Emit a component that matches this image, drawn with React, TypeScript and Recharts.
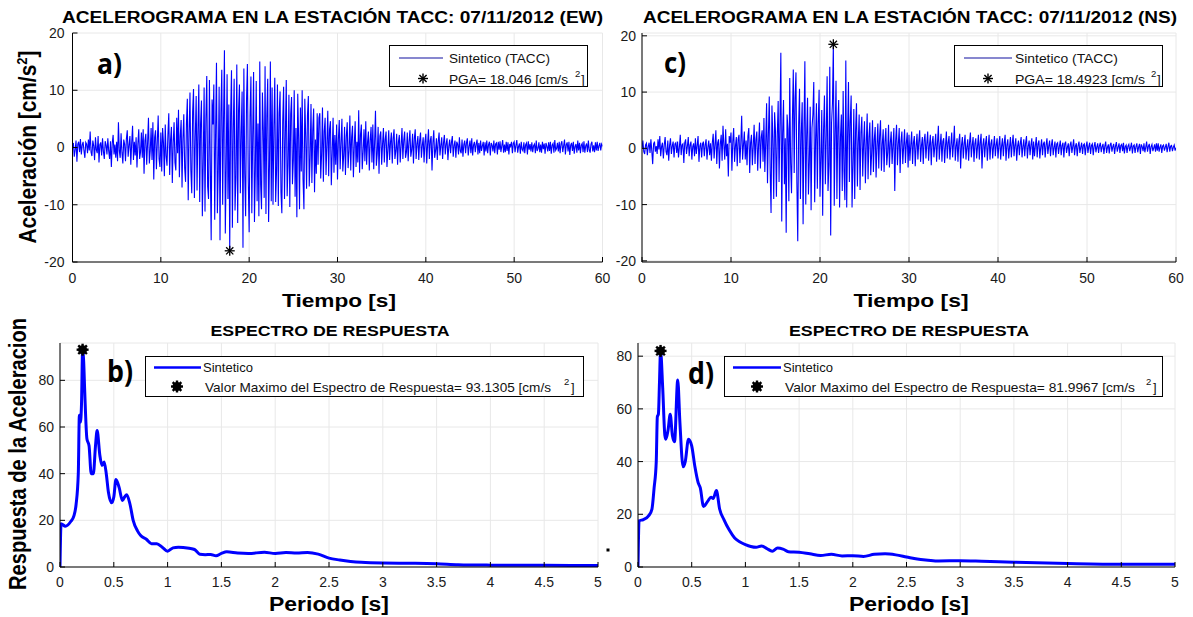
import React from "react";
import { LineChart, Line, XAxis, YAxis, CartesianGrid, ReferenceDot, Legend } from "recharts";

const FONT = "'Liberation Sans', Arial, Helvetica, sans-serif";
const BLUE = "#0000ff";

// accelerogram sample step [s]
const DT = 0.1;

// EW component, read off panel a), one row per second
const acelEW = [
  0.0, 0.8, -1.6, -0.4, 1.2, -2.5, 0.6, 1.0, -0.8, 1.5,
  -1.2, 0.4, 1.0, -0.6, -1.8, 0.9, 0.6, -1.0, 1.4, -0.5,
  2.8, -0.8, -1.5, 1.2, 0.3, -2.2, 1.8, -0.4, -1.0, 2.0,
  -2.6, 0.5, 0.9, -1.4, 1.6, -0.7, -2.0, 1.1, 0.4, -1.2,
  1.6, -0.6, -2.0, 1.1, -3.4, 0.8, 2.2, -1.2, 0.5, -1.8,
  1.0, -2.4, 4.4, -0.6, -1.8, 2.5, -0.9, -2.8, 1.4, 0.6,
  -2.4, 1.5, 3.0, -1.6, 0.4, 2.0, -3.0, 0.8, 3.8, -2.2,
  1.0, -1.4, 1.8, -3.5, 0.6, 3.2, -2.0, -0.8, 2.6, -1.8,
  3.2, -4.6, 1.2, 2.4, -3.0, 0.8, 5.2, -2.8, -0.6, 3.4,
  -2.2, 4.4, -5.6, 1.8, 3.0, -3.8, 0.9, 5.6, -2.0, -3.4,
  2.6, -4.2, 3.4, 0.8, -5.0, 4.0, -1.5, -3.2, 2.2, 6.0,
  -4.8, 1.4, 3.6, -6.2, 0.8, 4.4, -2.6, -4.0, 5.2, -1.0,
  6.6, -5.2, 2.0, 4.8, -7.0, 1.5, 5.8, -3.6, -6.0, 4.2,
  8.5, -9.2, 2.4, 9.6, -4.0, -8.0, 6.2, 10.2, -8.8, 1.8,
  9.0, -7.5, 3.0, 11.0, -9.5, 4.2, 8.2, -12.0, -2.5, 10.5,
  -11.2, 5.0, 12.5, -6.8, -9.0, 11.8, -3.0, -16.2, 8.4, 4.0,
  11.0, -12.6, 2.6, 14.8, -11.5, -4.0, 10.6, -16.2, 6.0, 13.6,
  -10.0, 4.8, 17.0, -15.0, -3.5, 12.8, -9.0, 7.5, -18.046, 5.6,
  13.5, -14.0, 3.2, 12.0, -11.0, -5.2, 14.5, -13.2, 6.4, 11.0,
  -8.0, 2.5, 9.8, -17.5, 13.8, -4.6, -12.0, 8.2, 14.6, -6.0,
  -14.8, 5.4, 12.4, -11.5, 2.0, 13.2, -13.0, -3.8, 11.6, -9.4,
  4.2, -12.0, 15.0, -6.5, -10.8, 9.6, 3.0, -8.8, 14.2, -11.6,
  5.5, 12.0, -13.0, -2.8, 15.0, -9.4, 10.5, -10.0, 3.6, 12.2,
  -9.5, -4.0, 11.0, -10.2, 6.0, 9.8, -7.8, -11.5, 4.6, 10.6,
  -9.0, 2.4, 11.8, -8.5, -3.0, 9.2, -10.4, 5.8, 8.8, -6.4,
  -2.2, 10.0, -8.6, 3.4, -12.2, 9.4, 1.6, -10.8, 7.0, -4.2,
  10.0, -5.6, -10.8, 8.5, 2.0, -7.2, 5.6, 9.0, -6.8, -1.8,
  7.6, -6.2, 3.0, 6.8, -7.8, 1.4, -4.6, 6.0, -3.0, 5.2,
  6.0, -5.4, -1.2, 7.0, -6.0, 2.8, 5.2, -4.8, 0.6, 6.4,
  -5.0, 3.2, 4.6, -6.6, -1.0, 5.2, -4.4, 2.2, -3.0, 4.0,
  -5.6, 1.4, 4.8, -3.8, 0.8, 5.0, -4.2, -1.4, 3.6, -4.8,
  2.0, 4.4, -3.6, -0.6, 5.6, -4.0, 1.8, 3.8, -5.2, 0.4,
  4.6, -3.4, 1.0, -2.6, 6.5, -4.4, 2.2, 4.0, -3.8, -0.8,
  3.2, -2.4, 4.6, -3.0, 0.9, 2.8, -4.0, 1.2, 3.6, -2.6,
  4.0, -3.8, 0.8, 6.4, -3.2, -1.0, 3.6, -4.6, 2.0, 2.8,
  -3.0, 0.6, 3.4, -2.6, 1.4, 2.8, -3.4, -0.4, 3.0, -2.2,
  0.9, 2.6, -2.8, 1.6, 3.2, -2.0, -0.6, 2.4, -3.0, 1.0,
  2.2, -2.6, 0.4, 3.4, -2.0, 1.2, 2.8, -1.8, -0.8, 2.6,
  -2.4, 1.0, 3.0, -1.6, -0.4, 2.4, -2.8, 1.6, 3.2, -2.0,
  0.6, 2.0, -2.2, 1.2, 2.6, -1.8, 0.4, 1.8, -2.6, 1.0,
  2.4, -2.8, 0.6, 3.2, -2.0, 1.2, 2.0, -4.0, 0.8, 3.0,
  -1.8, -0.6, 1.6, -2.2, 1.0, 2.6, -1.4, 0.4, 1.8, -2.0,
  0.8, 2.2, -1.2, 0.6, 1.6, -2.2, 0.2, 1.4, -1.0, 0.9,
  2.0, -1.6, 0.4, 1.2, -1.8, 1.0, 0.6, -1.2, 1.8, -0.6,
  -1.0, 1.4, -1.6, 0.5, 1.2, -1.0, 0.8, 1.6, -1.4, 0.2,
  1.2, -1.0, 1.6, -1.4, 0.4, 1.0, -0.8, 0.6, 1.4, -1.2,
  0.8, -1.0, 1.2, -0.6, 0.3, 1.0, -1.4, 0.9, -0.7, 1.2,
  -1.0, 0.5, 1.0, -1.4, 0.8, 0.4, -0.7, 1.2, -1.0, 0.6,
  0.8, -1.2, 1.0, -0.4, 1.1, -0.8, 0.3, 1.3, -0.9, 0.5,
  -0.8, 1.0, -0.6, 0.9, -1.2, 0.6, 0.2, 1.0, -1.0, 0.7,
  1.0, -0.8, 0.4, 1.3, -0.9, 0.2, 0.7, -1.1, 1.0, -0.3,
  -0.6, 0.9, -1.0, 0.5, 0.8, -1.2, 1.1, -0.4, 0.6, -0.7,
  0.9, -0.8, 0.3, 0.6, -1.0, 1.2, -0.6, -0.2, 0.9, -0.8,
  0.5, -0.9, 1.0, -0.3, 0.7, -1.1, 0.8, 0.2, -0.7, 0.9,
  -0.6, 1.0, -1.1, 0.4, 0.7, -0.9, 1.3, -0.5, -0.2, 0.8,
  -0.7, 1.0, -1.0, 0.6, 1.1, -0.8, 0.3, 1.4, -1.2, 0.5,
  0.9, -0.7, 1.0, -1.3, 0.4, 0.8, -0.6, 1.0, -1.1, 0.2,
  0.6, -0.9, 1.2, -0.5, 0.8, -1.0, 0.4, 0.7, -0.8, 1.1,
  -0.9, 0.3, 0.7, -0.8, 1.2, -0.4, -0.9, 0.6, 1.0, -0.7,
  0.4, -0.8, 0.9, -0.5, 1.0, -0.6, 0.3, 0.8, -0.5, 0.6,
  0.2,
];

// NS component, panel c)
const acelNS = [
  0.0, 1.4, -0.6, -1.0, 0.6, 0.9, -1.2, 0.3, 1.0, -0.8,
  1.6, -0.4, -2.8, 0.8, 1.2, -0.6, 0.4, -1.0, 1.6, -0.2,
  2.2, -1.4, 0.3, 1.0, -1.8, 0.6, 2.0, -0.6, -1.2, 1.4,
  -2.2, 0.5, 1.8, -1.0, 0.4, 1.2, -1.6, 0.8, 1.0, -0.8,
  1.2, -1.6, 0.2, 2.4, -1.2, 0.6, 0.8, -2.6, 1.0, 1.6,
  -1.0, 0.4, 2.0, -1.4, 0.6, 1.2, -2.0, 0.3, 0.9, -1.4,
  1.8, -1.0, 0.5, 2.2, -2.4, 0.4, 1.0, -1.6, 0.8, 1.2,
  -1.4, 0.6, 1.6, -2.0, 0.2, 1.4, -1.2, 0.9, -2.2, 1.0,
  2.6, -1.8, 0.6, 3.2, -2.8, 1.0, 1.6, -3.6, 0.8, 2.4,
  -2.2, 4.0, 0.6, -2.0, 3.4, -1.4, 0.8, -5.0, 2.2, 1.0,
  2.8, -4.0, 1.2, 3.6, -2.4, 0.4, 2.0, -3.2, 1.6, 2.4,
  -2.6, 0.8, 5.8, -2.0, 0.6, 3.0, -2.0, 1.4, -3.0, 2.2,
  3.6, -4.4, 1.0, 2.4, -3.0, 0.5, 4.2, -2.8, 1.6, 3.0,
  -4.0, 0.8, 4.6, -3.6, 2.0, 3.2, -2.4, 5.4, -4.2, 1.0,
  8.0, -6.2, 2.4, 9.2, -4.0, -11.5, 7.6, 1.8, -9.0, 6.4,
  3.0, -8.6, 2.2, 8.4, -6.0, 4.6, 17.0, -13.0, 2.6, 8.6,
  -6.4, 1.8, -15.0, 6.0, 3.4, -9.4, 12.5, -2.6, -8.0, 5.2,
  14.0, -4.4, 9.0, 13.5, -6.0, -16.5, 4.2, 10.6, -9.0, 2.8,
  8.2, -13.5, 3.4, 15.5, -10.0, 2.0, 9.0, -8.2, -2.4, 7.4,
  -11.0, 3.6, 6.0, 11.8, -9.6, 1.4, 8.0, -7.2, 4.4, 10.4,
  -8.6, -2.0, 6.8, -12.0, 3.2, 9.4, -6.4, 2.0, 12.8, -7.6,
  -3.0, 14.5, -15.5, 4.6, 8.0, 18.4923, -10.2, 2.4, 12.0, -9.0,
  3.6, 8.6, -10.5, 2.0, 6.0, -7.6, 10.2, -4.2, -9.2, 15.6,
  -10.5, 2.4, 11.8, -6.0, 4.8, 9.4, -10.5, -3.0, 7.0, -9.0,
  3.2, 8.0, -6.8, 1.2, 6.0, -7.4, 2.8, 5.6, -5.0, 1.0,
  4.8, -6.2, 0.8, 6.2, -5.5, 2.0, 4.6, -4.8, -1.0, 5.0,
  -4.2, 1.6, 3.8, -5.2, 0.6, 4.4, -3.6, 2.2, 5.0, -4.0,
  0.8, 3.4, -4.2, 1.2, 3.6, -3.0, -0.8, 4.2, -3.4, 1.0,
  3.0, -2.8, 0.6, 3.6, -7.6, 1.4, 4.2, -3.0, 0.8, 3.6,
  -4.4, 1.2, 3.0, -2.8, 0.4, 3.4, -2.6, 0.9, 2.8, -3.4,
  2.4, -2.2, 0.6, 3.0, -2.8, 1.0, 2.2, -3.2, 0.4, 2.6,
  -2.0, 1.2, 3.2, -2.4, 0.5, 2.0, -2.8, 1.4, 2.6, -1.8,
  0.8, 3.0, -2.2, 0.6, 2.4, -3.0, 1.0, 2.2, -1.6, 0.4,
  2.6, -2.4, 0.9, 4.0, -2.0, 0.6, 2.6, -2.4, 1.2, 1.8,
  -2.6, 0.4, 3.0, -1.8, 1.0, 2.2, -2.0, 0.6, 2.8, -1.6,
  0.8, 4.0, -2.2, 0.4, 1.8, -2.4, 1.2, 2.6, -3.6, 0.6,
  2.0, -1.8, 0.8, 2.4, -2.0, 0.2, 1.6, -2.2, 1.0, 2.8,
  -1.6, 0.6, 2.0, -2.4, 0.8, 1.8, -1.8, 0.4, 2.4, -2.0,
  1.0, 2.6, -3.6, 0.6, 1.8, -1.6, 0.9, 2.2, -2.2, 0.5,
  2.4, -2.0, 0.8, 1.6, -1.8, 0.4, 2.2, -1.4, 0.6, 1.8,
  -1.8, 0.6, 2.2, -2.0, 0.4, 1.8, -1.4, 1.0, 2.4, -2.2,
  0.6, 1.6, -1.8, 0.3, 2.0, -1.6, 0.8, 2.4, -1.4, 0.5,
  1.8, -2.2, 0.4, 1.4, -1.2, 0.8, 2.0, -1.6, 0.3, 1.6,
  -1.4, 0.9, 2.2, -1.8, 0.4, 1.4, -1.2, 0.6, 1.8, -2.0,
  1.2, -1.4, 0.5, 2.0, -1.6, 0.8, 1.4, -1.8, 0.2, 1.6,
  -1.2, 0.8, 1.2, -1.6, 0.6, 1.8, -1.0, 0.4, 1.4, -1.4,
  0.6, 1.6, -1.2, 0.2, 1.2, -1.6, 0.8, 1.0, -1.0, 0.4,
  1.4, -1.2, 0.5, 1.0, -1.6, 0.8, 1.2, -0.8, 0.2, 0.9,
  -1.4, 0.6, 1.2, -0.8, 0.3, 1.6, -1.2, 0.4, 0.9, -1.4,
  0.5, 1.2, -0.8, 0.2, 1.0, -1.0, 0.6, 0.8, -1.2, 0.4,
  1.2, -0.8, 0.3, 1.0, -1.0, 0.5, 0.8, -1.2, 0.4, 1.1,
  -0.7, 0.2, 0.9, -0.8, 0.5, 1.0, -0.7, 0.3, 0.8, -1.0,
  0.4, 1.2, -0.8, 0.2, 0.7, -0.9, 0.6, 1.0, -0.6, 0.3,
  0.8, -1.0, 0.4, 1.1, -0.6, 0.2, 0.9, -0.8, 0.5, 0.7,
  -0.5, 1.0, -0.9, 0.3, 0.6, -0.8, 0.4, 0.7, -0.5, 0.2,
  1.0, -0.9, 0.4, 0.6, -0.8, 0.3, 0.9, -0.7, 0.2, 0.8,
  -1.0, 0.7, 0.3, -0.5, 0.9, -0.7, 0.2, 1.2, -0.6, 0.4,
  0.8, -1.0, 0.3, 0.7, -0.5, 0.1, 0.7, -0.6, 0.9, -0.4,
  0.9, -0.6, 0.2, 0.7, -0.8, 0.4, 0.6, -0.4, 0.2, 0.8,
  -0.7, 0.3, 1.0, -0.6, 0.4, 0.5, -0.5, 0.2, 0.6, -0.4,
  0.1,
];

const pgaEW = { t: 17.8, a: -18.046 };
const pgaNS = { t: 21.5, a: 18.4923 };

// response spectra
const periodoB = [
  0, 0.01, 0.05, 0.1, 0.13, 0.15, 0.17, 0.18, 0.19, 0.2,
  0.21, 0.22, 0.23, 0.25, 0.27, 0.29, 0.31, 0.33, 0.345, 0.37,
  0.39, 0.41, 0.43, 0.45, 0.48, 0.5, 0.52, 0.55, 0.58, 0.6,
  0.62, 0.65, 0.68, 0.72, 0.75, 0.8, 0.85, 0.9, 0.95, 1.0,
  1.05, 1.1, 1.2, 1.25, 1.3, 1.35, 1.4, 1.45, 1.5, 1.55,
  1.65, 1.75, 1.9, 2.0, 2.1, 2.2, 2.3, 2.4, 2.5, 2.6,
  2.7, 2.8, 3.0, 3.3, 3.5, 3.7, 4.0, 4.5, 5.0,
];
const saB = [
  0, 18.5, 17.5, 19.5, 22, 27, 40, 65, 62, 70,
  93.13, 88, 75, 55, 52, 40, 40, 52, 58.5, 48,
  43.5, 45, 40, 32, 27.5, 30, 37.5, 34, 28.5, 30,
  31, 27, 20, 15.5, 13.5, 12, 10, 10, 8.5, 6.8,
  8.2, 8.5, 8, 7.5, 5.5, 5.3, 5.4, 4.8, 5.8, 6.5,
  6, 5.8, 6.3, 5.8, 6.2, 6, 6.2, 5.5, 3.8, 3.0,
  2.4, 2.0, 1.7, 1.6, 1.4, 1.0, 0.8, 0.7, 0.6,
];
const periodoD = [
  0, 0.01, 0.05, 0.1, 0.13, 0.15, 0.17, 0.18, 0.19, 0.2,
  0.21, 0.23, 0.25, 0.26, 0.28, 0.3, 0.32, 0.34, 0.37, 0.39,
  0.42, 0.44, 0.47, 0.5, 0.53, 0.56, 0.58, 0.61, 0.65, 0.68,
  0.7, 0.73, 0.76, 0.8, 0.85, 0.9, 0.95, 1.0, 1.05, 1.1,
  1.15, 1.2, 1.25, 1.3, 1.35, 1.4, 1.5, 1.6, 1.7, 1.8,
  1.9, 2.0, 2.1, 2.2, 2.3, 2.4, 2.5, 2.6, 2.7, 2.8,
  3.0, 3.2, 3.5, 4.0, 4.5, 5.0,
];
const saD = [
  0, 17.5, 18, 19.5, 22, 30, 40, 57, 58, 70,
  82, 68, 50, 48.5, 52, 58, 50, 47.5, 71, 55,
  38, 40, 48.5, 46, 38, 32, 30, 23, 25, 26.5,
  26, 29, 22, 18, 14, 11, 9.5, 8.5, 7.8, 7.5,
  8, 7.0, 6.0, 7.2, 6.8, 5.8, 5.6, 5.0, 4.4, 4.8,
  4.2, 4.3, 4.0, 4.8, 5.0, 4.6, 3.8, 3.0, 2.6, 2.3,
  2.4, 2.2, 1.8, 1.3, 1.0, 1.0,
];
const maxB = { p: 0.21, sa: 93.1305 };
const maxD = { p: 0.21, sa: 81.9967 };

const tiempoTicks = [0, 10, 20, 30, 40, 50, 60];
const acelTicks = [-20, -10, 0, 10, 20];
const periodoTicks = [0, 0.5, 1, 1.5, 2, 2.5, 3, 3.5, 4, 4.5, 5];
const saTicks = [0, 20, 40, 60, 80];

const dataEW = acelEW.map((a, i) => ({ t: +(i * DT).toFixed(1), a }));
const dataNS = acelNS.map((a, i) => ({ t: +(i * DT).toFixed(1), a }));
const dataB = periodoB.map((p, i) => ({ p, sa: saB[i] }));
const dataD = periodoD.map((p, i) => ({ p, sa: saD[i] }));

const tickStyle = { fontSize: 14, fill: "#1a1a1a", fontFamily: FONT };

// matlab style box: inward ticks on all four sides
function boxAxes(xKey: string, xDomain: number[], xTicks: number[], yDomain: number[], yTicks: number[], yWidth: number, yGap: number, xGap: number) {
  return [
    <XAxis key="xb" dataKey={xKey} type="number" domain={xDomain} ticks={xTicks} interval={0} allowDataOverflow
      height={30} tickSize={-5} tickMargin={xGap} tick={tickStyle} stroke="#000" />,
    <XAxis key="xt" xAxisId="top" orientation="top" type="number" domain={xDomain} ticks={xTicks} interval={0} allowDataOverflow
      height={0} tickSize={-5} tick={false} stroke="#000" />,
    <YAxis key="yl" type="number" domain={yDomain} ticks={yTicks} interval={0} allowDataOverflow
      width={yWidth} tickSize={-5} tickMargin={yGap} tick={tickStyle} stroke="#000" />,
    <YAxis key="yr" yAxisId="right" orientation="right" type="number" domain={yDomain} ticks={yTicks} interval={0} allowDataOverflow
      width={0} tickSize={-5} tick={false} stroke="#000" />,
  ];
}

const Asterisco = ({ cx, cy, r = 5, w = 1.3 }: any) => (
  <g stroke="#000" strokeWidth={w}>
    <line x1={cx - r} y1={cy} x2={cx + r} y2={cy} />
    <line x1={cx} y1={cy - r} x2={cx} y2={cy + r} />
    <line x1={cx - r * 0.72} y1={cy - r * 0.72} x2={cx + r * 0.72} y2={cy + r * 0.72} />
    <line x1={cx - r * 0.72} y1={cy + r * 0.72} x2={cx + r * 0.72} y2={cy - r * 0.72} />
  </g>
);

const Mancha = ({ cx, cy }: any) => (
  <g>
    <circle cx={cx} cy={cy} r={4.5} fill="#000" />
    <Asterisco cx={cx} cy={cy} r={6} w={2.4} />
  </g>
);

const legendText = { fontFamily: FONT, fontSize: 13.5, fill: "#111" };

const LegendAcel = ({ w, lineEnd, textX, len1, label, len2, supX, brX, starX }: any) => (
  <svg width={w} height={42} style={{ display: "block" }}>
    <rect x={0.5} y={0.5} width={w - 1} height={41} fill="#fff" stroke="#000" strokeWidth={1} />
    <line x1={10} x2={lineEnd} y1={13} y2={13} stroke="#1010a0" strokeWidth={1.2} />
    <text x={textX} y={17.8} {...legendText} textLength={len1} lengthAdjust="spacingAndGlyphs">Sintetico (TACC)</text>
    <Asterisco cx={starX} cy={33.5} r={5} w={1.4} />
    <text x={textX} y={38.6} {...legendText} textLength={len2} lengthAdjust="spacingAndGlyphs">{label}</text>
    <text x={supX} y={32} {...legendText} fontSize={9.5}>2</text>
    <text x={brX} y={38.6} {...legendText}>]</text>
  </svg>
);

const LegendEspectro = ({ lineEnd, textX, len2, label, supX, brX, markX }: any) => (
  <svg width={439} height={41} style={{ display: "block" }}>
    <rect x={0.5} y={0.5} width={438} height={40} fill="#fff" stroke="#000" strokeWidth={1} />
    <line x1={9} x2={lineEnd} y1={11.5} y2={11.5} stroke={BLUE} strokeWidth={2.6} />
    <text x={textX - 2} y={16} {...legendText} fontSize={13}>Sintetico</text>
    <Mancha cx={markX} cy={30.5} />
    <text x={textX} y={36} {...legendText} fontSize={13} textLength={len2} lengthAdjust="spacingAndGlyphs">{label}</text>
    <text x={supX} y={29} {...legendText} fontSize={9.5}>2</text>
    <text x={brX} y={36} {...legendText} fontSize={13}>]</text>
  </svg>
);

const legendProps = { verticalAlign: "middle" as const, align: "center" as const, layout: "horizontal" as const };
const bold = { fontFamily: FONT, fontWeight: 700, fill: "#000" };
const panelTag = { fontFamily: "'Open Sans', 'Liberation Sans', sans-serif", fontWeight: 700, fill: "#000" };

export default function App() {
  return (
    <div style={{ position: "absolute", left: 0, top: 0, width: 1193, height: 617, background: "#fff", overflow: "hidden" }}>
      {/* a) EW accelerogram */}
      <div style={{ position: "absolute", left: 0, top: 0 }}>
        <LineChart width={615} height={300} data={dataEW} margin={{ top: 33, right: 12.5, bottom: 8, left: 32.5 }}>
          <CartesianGrid stroke="#e8e8e8" />
          {boxAxes("t", [0, 60], tiempoTicks, [-20, 20], acelTicks, 40, 13, 16)}
          <Line dataKey="a" type="linear" stroke={BLUE} strokeWidth={1.1} dot={false} activeDot={false} isAnimationActive={false} />
          <ReferenceDot x={pgaEW.t} y={pgaEW.a} r={5} shape={(p: any) => <Asterisco cx={p.cx} cy={p.cy} />} />
          <Legend {...legendProps} wrapperStyle={{ left: 389, top: 45, width: 199, height: 42 }}
            content={() => <LegendAcel w={199} lineEnd={54} textX={60} len1={101} label="PGA= 18.046 [cm/s" len2={119} supX={186} brX={192} starX={34} />} />
        </LineChart>
      </div>

      {/* c) NS accelerogram */}
      <div style={{ position: "absolute", left: 615, top: 0 }}>
        <LineChart width={578} height={300} data={dataNS} margin={{ top: 33, right: 17, bottom: 8, left: 0 }}>
          <CartesianGrid stroke="#e8e8e8" />
          {boxAxes("t", [0, 60], tiempoTicks, [-20.2, 20.5], acelTicks, 27, 11, 16)}
          <Line dataKey="a" type="linear" stroke={BLUE} strokeWidth={1.1} dot={false} activeDot={false} isAnimationActive={false} />
          <ReferenceDot x={pgaNS.t} y={pgaNS.a} r={5} shape={(p: any) => <Asterisco cx={p.cx} cy={p.cy} />} />
          <Legend {...legendProps} wrapperStyle={{ left: 339, top: 45, width: 209, height: 42 }}
            content={() => <LegendAcel w={209} lineEnd={58} textX={61} len1={103} label="PGA= 18.4923 [cm/s" len2={130} supX={197} brX={203} starX={34} />} />
        </LineChart>
      </div>

      {/* b) EW spectrum */}
      <div style={{ position: "absolute", left: 0, top: 300 }}>
        <LineChart width={615} height={317} data={dataB} margin={{ top: 43, right: 17, bottom: 20, left: 20 }}>
          <CartesianGrid stroke="#e8e8e8" />
          {boxAxes("p", [0, 5], periodoTicks, [0, 96], saTicks, 40, 11, 15)}
          <Line dataKey="sa" type="monotone" stroke={BLUE} strokeWidth={3} dot={false} activeDot={false} isAnimationActive={false} />
          <ReferenceDot x={maxB.p} y={maxB.sa} r={5} shape={(p: any) => <Mancha cx={p.cx} cy={p.cy} />} />
          <Legend {...legendProps} wrapperStyle={{ left: 145, top: 56, width: 439, height: 41 }}
            content={() => <LegendEspectro lineEnd={56} textX={60} label="Valor Maximo del Espectro de Respuesta= 93.1305 [cm/s" len2={346} supX={419} brX={426} markX={32} />} />
        </LineChart>
      </div>

      {/* d) NS spectrum */}
      <div style={{ position: "absolute", left: 615, top: 300 }}>
        <LineChart width={578} height={317} data={dataD} margin={{ top: 43, right: 18, bottom: 20, left: 0 }}>
          <CartesianGrid stroke="#e8e8e8" />
          {boxAxes("p", [0, 5], periodoTicks, [0, 85], saTicks, 23, 11, 15)}
          <Line dataKey="sa" type="monotone" stroke={BLUE} strokeWidth={3} dot={false} activeDot={false} isAnimationActive={false} />
          <ReferenceDot x={maxD.p} y={maxD.sa} r={5} shape={(p: any) => <Mancha cx={p.cx} cy={p.cy} />} />
          <Legend {...legendProps} wrapperStyle={{ left: 109, top: 56, width: 439, height: 41 }}
            content={() => <LegendEspectro lineEnd={57} textX={61} label="Valor Maximo del Espectro de Respuesta= 81.9967 [cm/s" len2={350} supX={422} brX={429} markX={33} />} />
        </LineChart>
      </div>

      {/* titles, axis labels and panel tags */}
      <svg width={1193} height={617} style={{ position: "absolute", left: 0, top: 0, pointerEvents: "none" }}>
        <text x={62} y={23.3} {...bold} fontSize={16} textLength={541} lengthAdjust="spacingAndGlyphs">ACELEROGRAMA EN LA ESTACIÓN TACC: 07/11/2012 (EW)</text>
        <text x={643} y={23.3} {...bold} fontSize={16} textLength={534} lengthAdjust="spacingAndGlyphs">ACELEROGRAMA EN LA ESTACIÓN TACC: 07/11/2012 (NS)</text>

        <text x={339} y={307} {...bold} fontSize={19} textAnchor="middle" textLength={114} lengthAdjust="spacingAndGlyphs">Tiempo [s]</text>
        <text x={911} y={307} {...bold} fontSize={19} textAnchor="middle" textLength={115} lengthAdjust="spacingAndGlyphs">Tiempo [s]</text>

        <text x={330} y={336} {...bold} fontSize={15.5} textAnchor="middle" textLength={239} lengthAdjust="spacingAndGlyphs">ESPECTRO DE RESPUESTA</text>
        <text x={909} y={336} {...bold} fontSize={15.5} textAnchor="middle" textLength={240} lengthAdjust="spacingAndGlyphs">ESPECTRO DE RESPUESTA</text>

        <text x={329} y={611} {...bold} fontSize={20} textAnchor="middle" textLength={120} lengthAdjust="spacingAndGlyphs">Periodo [s]</text>
        <text x={909} y={611} {...bold} fontSize={20} textAnchor="middle" textLength={120} lengthAdjust="spacingAndGlyphs">Periodo [s]</text>

        <text transform="translate(36,147) rotate(-90)" {...bold} fontSize={24} textAnchor="middle" textLength={193} lengthAdjust="spacingAndGlyphs">
          Aceleración [cm/s<tspan dy={-9} fontSize={15}>2</tspan><tspan dy={9}>]</tspan>
        </text>
        <text transform="translate(26,454) rotate(-90)" {...bold} fontSize={24} textAnchor="middle" textLength={272} lengthAdjust="spacingAndGlyphs">Respuesta de la Aceleracion</text>

        <text x={97} y={74} {...panelTag} fontSize={28} textLength={25} lengthAdjust="spacingAndGlyphs">a)</text>
        <text x={664} y={73} {...panelTag} fontSize={28} textLength={22} lengthAdjust="spacingAndGlyphs">c)</text>
        <text x={107} y={382} {...panelTag} fontSize={30} textLength={26} lengthAdjust="spacingAndGlyphs">b)</text>
        <text x={688} y={384} {...panelTag} fontSize={30} textLength={26} lengthAdjust="spacingAndGlyphs">d)</text>

        <rect x={606.5} y={548.5} width={3} height={3} fill="#000" />
      </svg>
    </div>
  );
}
